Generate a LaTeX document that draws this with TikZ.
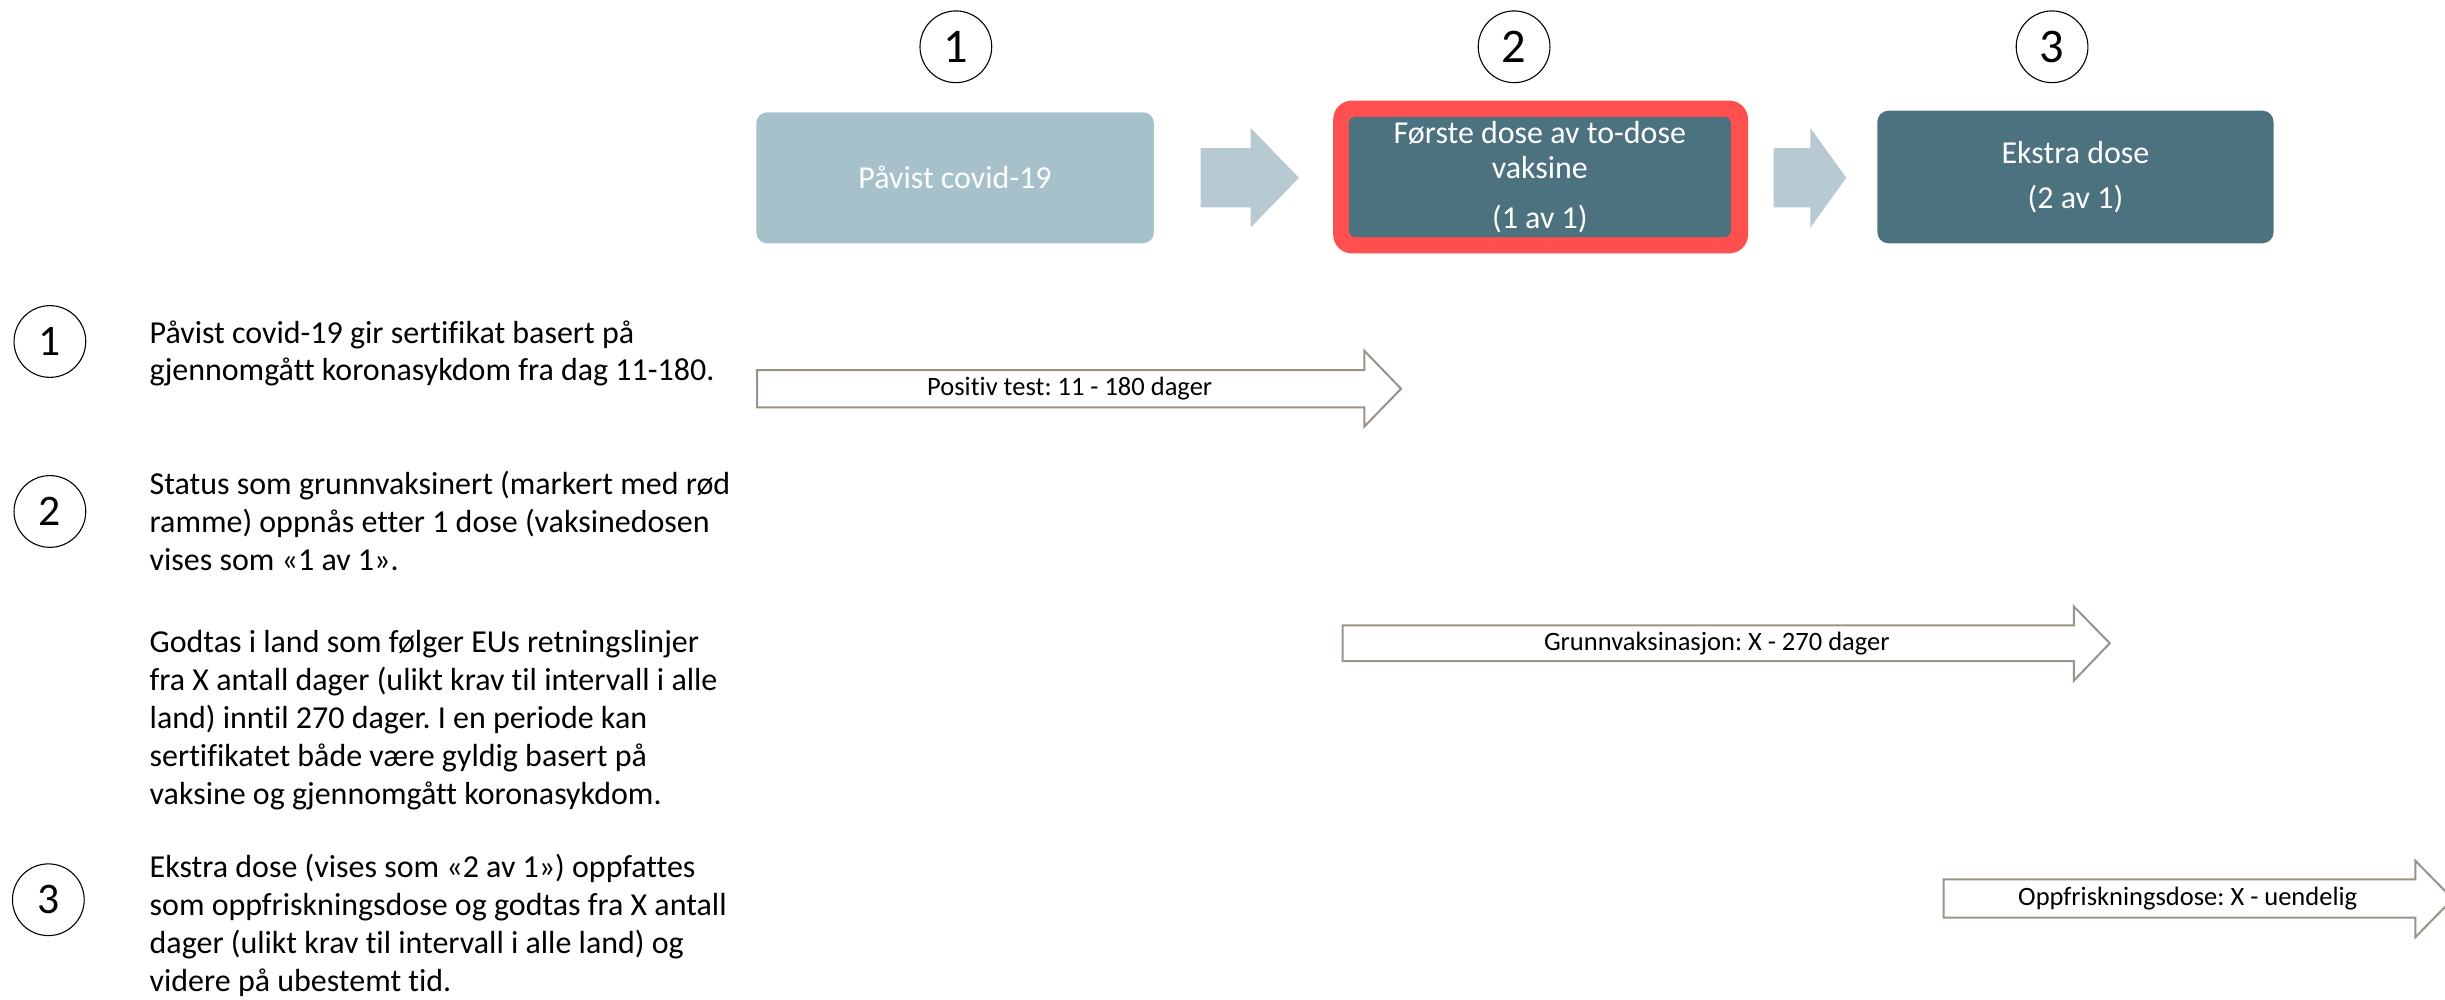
\documentclass[tikz,border=0pt]{standalone}
\usepackage{fontspec}
\setmainfont{Carlito}[Ligatures=NoCommon]
\frenchspacing
\definecolor{lightbox}{HTML}{A7C1CA}
\definecolor{darkbox}{HTML}{4C717F}
\definecolor{blockarr}{HTML}{B8CAD1}
\definecolor{redframe}{HTML}{FF5050}
\definecolor{outlinegray}{HTML}{9B9387}
\begin{document}
\begin{tikzpicture}[x=1pt,y=-1pt,
  numcircle/.style={circle,draw=black,line width=0.7pt,minimum size=46pt,inner sep=0pt},
  topnum/.style={numcircle,font=\fontsize{31}{31}\selectfont},
  leftnum/.style={numcircle,font=\fontsize{28}{28}\selectfont},
  stagebox/.style={rounded corners=7pt,inner sep=0pt,text=white,align=center,
    font=\fontsize{20.5}{22.5}\selectfont},
  blockarrow/.style={fill=blockarr},
  spanarrow/.style={draw=outlinegray,line width=1.3pt,fill=white,line join=miter},
  spanlabel/.style={inner sep=0pt,font=\fontsize{17}{17}\selectfont},
  para/.style={anchor=base west,inner sep=0pt,align=left,font=\fontsize{20.5}{24.3}\selectfont}
]
\useasboundingbox (0,0) rectangle (1568,641);

% top numbers
\node[topnum] (c1) at (613,30) {1};
\node[topnum] (c2) at (971,30) {2};
\node[topnum] (c3) at (1316,30) {3};

% stage boxes
\node[stagebox,fill=lightbox,minimum width=255pt,minimum height=84pt] (b1) at (612.5,114) {Påvist covid-19};
\node[fill=redframe,rounded corners=12pt,minimum width=266pt,minimum height=98pt,inner sep=0pt] (frame) at (988,113.5) {};
\node[stagebox,fill=darkbox,rounded corners=4pt,minimum width=245pt,minimum height=77pt] (b2) at (987.5,113.5)
  {Første dose av to-dose\\vaksine\\[9.5pt](1 av 1)};
\node[stagebox,fill=darkbox,minimum width=254pt,minimum height=85pt] (b3) at (1331,113.5)
  {Ekstra dose\\[6pt](2 av 1)};

% block arrows between boxes
\fill[blockarrow] (770,95) -- (802,95) -- (802,82) -- (833,114) -- (802,146) -- (802,133) -- (770,133) -- cycle;
\fill[blockarrow] (1137.5,95) -- (1161,95) -- (1161,82) -- (1184,114) -- (1161,146) -- (1161,133) -- (1137.5,133) -- cycle;

% span arrows
\draw[spanarrow] (485.6,237.3) -- (875,237.3) -- (875,225) -- (898.5,249.3) -- (875,273.5) -- (875,261.3) -- (485.6,261.3) -- cycle;
\node[spanlabel] (sa) at (686,249.3) {Positiv test: 11 - 180 dager};
\draw[spanarrow] (861,401) -- (1330,401) -- (1330,389) -- (1353,412.5) -- (1330,436.5) -- (1330,424) -- (861,424) -- cycle;
\node[spanlabel] (sb) at (1101,412.5) {Grunnvaksinasjon: X - 270 dager};
\draw[spanarrow] (1246.5,564) -- (1549,564) -- (1549,552) -- (1573,576.5) -- (1549,601) -- (1549,588.4) -- (1246.5,588.4) -- cycle;
\node[spanlabel] (sc) at (1403,576.5) {Oppfriskningsdose: X - uendelig};

% left numbers
\node[leftnum] (l1) at (32,219) {1};
\node[leftnum] (l2) at (32,328) {2};
\node[leftnum] (l3) at (31,577) {3};

% paragraphs (anchored at the baseline of their last line)
\node[para] (p1) at (95.8,244.3) {Påvist covid-19 gir sertifikat basert på\\gjennomgått koronasykdom fra dag 11-180.};
\node[para] (p2) at (95.8,365.6) {Status som grunnvaksinert (markert med rød\\ramme) oppnås etter 1 dose (vaksinedosen\\vises som «1 av 1».};
\node[para] (p3) at (95.8,515.9) {Godtas i land som følger EUs retningslinjer\\fra X antall dager (ulikt krav til intervall i alle\\land) inntil 270 dager. I en periode kan\\sertifikatet både være gyldig basert på\\vaksine og gjennomgått koronasykdom.};
\node[para] (p4) at (95.8,635.9) {Ekstra dose (vises som «2 av 1») oppfattes\\som oppfriskningsdose og godtas fra X antall\\dager (ulikt krav til intervall i alle land) og\\videre på ubestemt tid.};
\end{tikzpicture}
\end{document}
